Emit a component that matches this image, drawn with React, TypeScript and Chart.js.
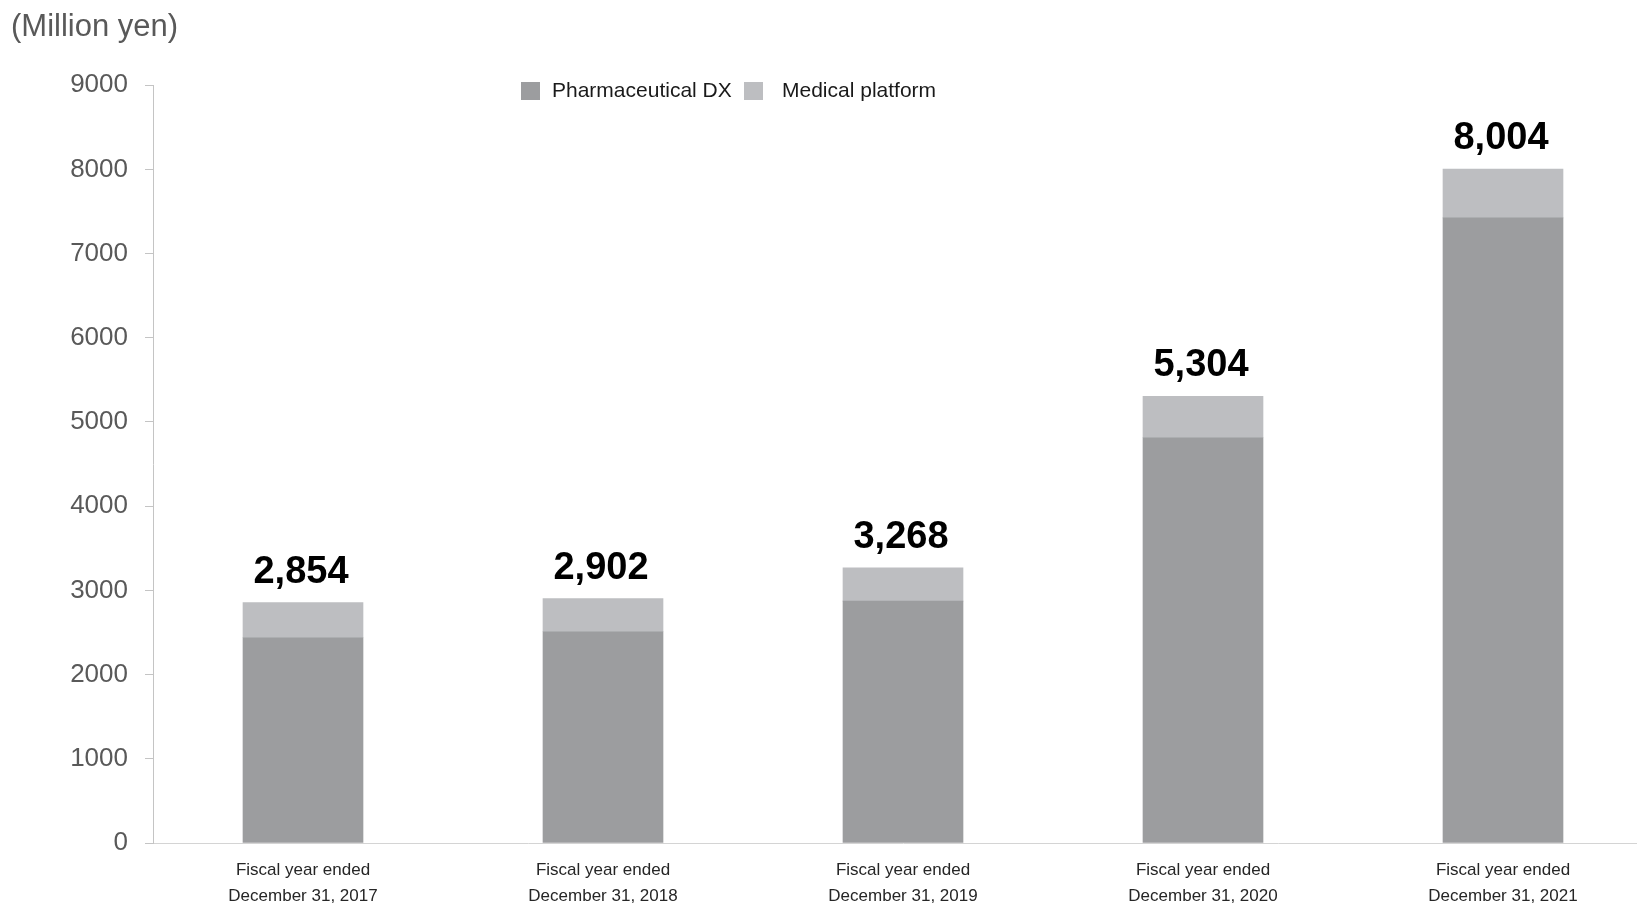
import React, { useEffect, useRef } from "react";
import { Chart, registerables } from "chart.js";

Chart.register(...registerables);

const categories: string[][] = [
  ["Fiscal year ended", "December 31, 2017"],
  ["Fiscal year ended", "December 31, 2018"],
  ["Fiscal year ended", "December 31, 2019"],
  ["Fiscal year ended", "December 31, 2020"],
  ["Fiscal year ended", "December 31, 2021"],
];
const pharmaceuticalDX = [2438, 2509, 2873, 4813, 7425];
const medicalPlatform = [416, 393, 395, 491, 579];
const seriesNames = ["Pharmaceutical DX", "Medical platform"];
const seriesColors = ["#9c9d9f", "#bdbec1"];
const yTicks = [0, 1000, 2000, 3000, 4000, 5000, 6000, 7000, 8000, 9000];
const unitLabel = "(Million yen)";

const FONT = "'Liberation Sans', Arial, Helvetica, sans-serif";

const totalsPlugin = {
  id: "totals",
  afterDatasetsDraw(chart: any) {
    const ctx = chart.ctx;
    const yScale = chart.scales.y;
    const n = chart.data.labels.length;
    const lastMeta = chart.getDatasetMeta(chart.data.datasets.length - 1);
    ctx.save();
    ctx.font = `bold 38px ${FONT}`;
    ctx.fillStyle = "#000000";
    ctx.textAlign = "center";
    ctx.textBaseline = "alphabetic";
    for (let i = 0; i < n; i++) {
      let total = 0;
      chart.data.datasets.forEach((ds: any) => (total += ds.data[i]));
      const x = lastMeta.data[i].x - 2;
      const y = yScale.getPixelForValue(total) - 20;
      ctx.fillText(total.toLocaleString("en-US"), x, y);
    }
    ctx.restore();
  },
};

const legendPlugin = {
  id: "customLegend",
  afterDraw(chart: any) {
    const ctx = chart.ctx;
    const items = [
      { box: 521, text: 552 },
      { box: 744, text: 782 },
    ];
    ctx.save();
    ctx.font = `21px ${FONT}`;
    ctx.textBaseline = "middle";
    ctx.textAlign = "left";
    chart.data.datasets.forEach((ds: any, i: number) => {
      const it = items[i];
      ctx.fillStyle = ds.backgroundColor;
      ctx.fillRect(it.box, 82, 19, 18);
      ctx.fillStyle = "#1a1a1a";
      ctx.fillText(ds.label, it.text, 91.5);
    });
    ctx.restore();
  },
};

export default function App() {
  const ref = useRef<HTMLCanvasElement | null>(null);

  useEffect(() => {
    if (!ref.current) return;
    const chart = new Chart(ref.current, {
      type: "bar",
      data: {
        labels: categories,
        datasets: [
          {
            label: seriesNames[0],
            data: pharmaceuticalDX,
            backgroundColor: seriesColors[0],
            barThickness: 120,
          },
          {
            label: seriesNames[1],
            data: medicalPlatform,
            backgroundColor: seriesColors[1],
            barThickness: 120,
          },
        ],
      },
      options: {
        responsive: false,
        animation: false,
        layout: { padding: { left: 11, right: 0, top: 0, bottom: 0 } },
        plugins: {
          legend: { display: false },
          tooltip: { enabled: false },
          title: {
            display: true,
            text: unitLabel,
            align: "start",
            color: "#595959",
            font: { size: 31, family: FONT, weight: "normal" },
            padding: { top: 9, bottom: 39 },
          },
        },
        scales: {
          x: {
            stacked: true,
            grid: { display: false, drawTicks: false },
            border: { display: true, color: "#d4d4d4", width: 1 },
            ticks: {
              color: "#262626",
              font: { size: 17, family: FONT, lineHeight: 1.5 },
              padding: 15,
              maxRotation: 0,
              autoSkip: false,
            },
            afterFit(scale: any) {
              scale.height = 67;
            },
          },
          y: {
            stacked: true,
            min: 0,
            max: 9000,
            afterBuildTicks(scale: any) {
              scale.ticks = yTicks.map((v) => ({ value: v }));
            },
            grid: {
              drawOnChartArea: false,
              drawTicks: true,
              tickLength: 8,
              color: "#c4c4c4",
            },
            border: { display: true, color: "#c4c4c4", width: 1 },
            ticks: {
              color: "#595959",
              font: { size: 26, family: FONT },
              padding: 17,
              callback: (v: any) => String(v),
            },
            afterFit(scale: any) {
              scale.width = 142;
            },
          },
        },
      },
      plugins: [totalsPlugin, legendPlugin],
    });
    return () => chart.destroy();
  }, []);

  return (
    <div
      style={{
        position: "absolute",
        left: 0,
        top: 0,
        width: 1637,
        height: 903,
        overflow: "hidden",
        background: "#ffffff",
      }}
    >
      <canvas ref={ref} width={1653} height={910} style={{ display: "block" }} />
    </div>
  );
}
